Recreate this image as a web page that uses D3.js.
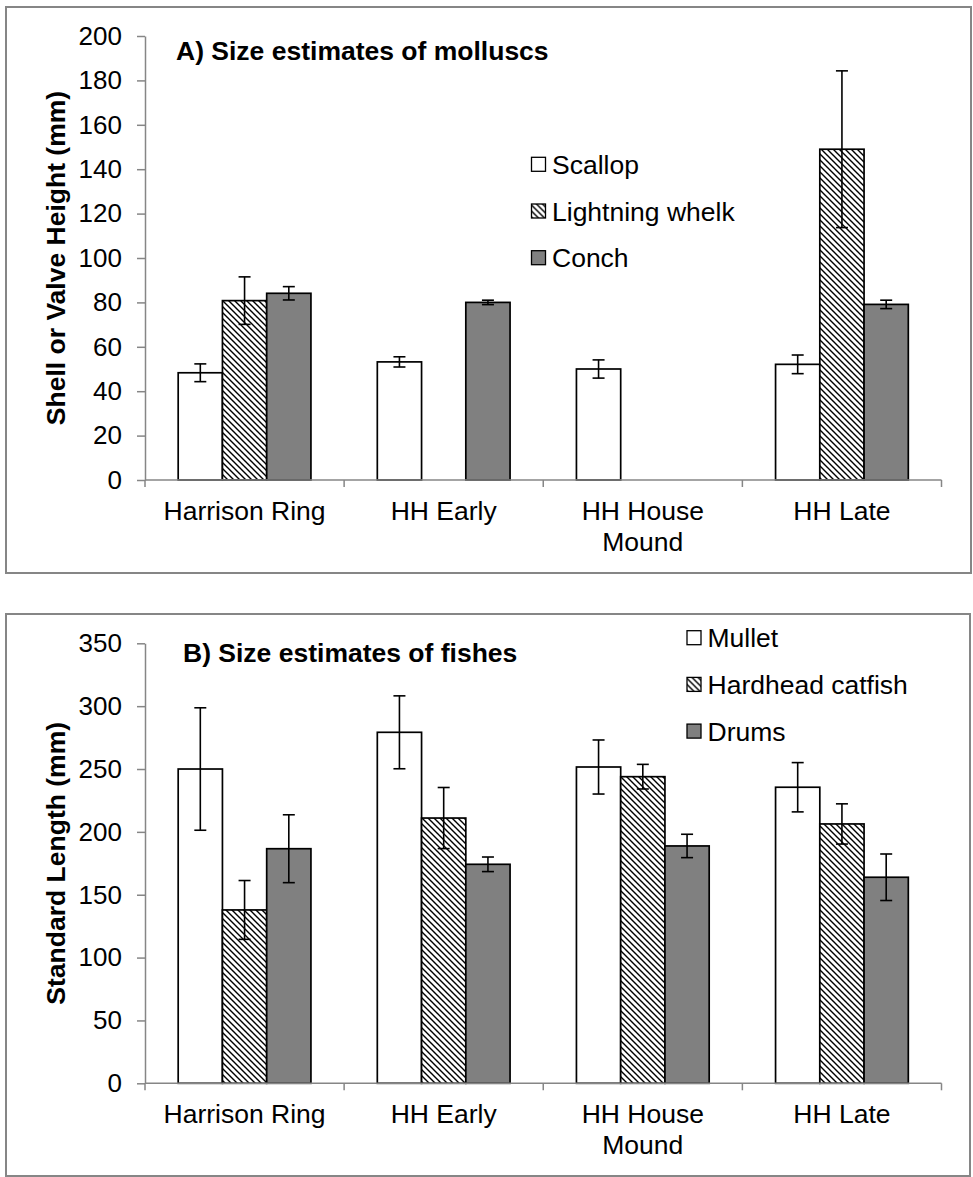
<!DOCTYPE html>
<html>
<head>
<meta charset="utf-8">
<script src="https://cdn.jsdelivr.net/npm/d3@7"></script>
<style>
  body { margin: 0; background: #fff; }
  text { font-family: "Liberation Sans", Arial, sans-serif; }
</style>
</head>
<body>
<div id="viz"></div>
<script>
// shared categories
const sites = ["Harrison Ring", "HH Early", "HH House Mound", "HH Late"];

// A) molluscs
const molluscSeries = ["Scallop", "Lightning whelk", "Conch"];
const scallopMean = [48.3, 53.2, 50.0, 52.1];
const scallopErr  = [4.0, 2.3, 4.1, 4.2];
const whelkMean   = [80.8, 0, 0, 149.0];
const whelkErr    = [10.7, null, null, 35.3];
const conchMean   = [84.1, 80.0, 0, 79.1];
const conchErr    = [3.0, 1.0, null, 1.9];
const molluscTicks = [0, 20, 40, 60, 80, 100, 120, 140, 160, 180, 200];

// B) fishes
const fishSeries = ["Mullet", "Hardhead catfish", "Drums"];
const mulletMean  = [250.0, 279.2, 251.6, 235.5];
const mulletErr   = [48.7, 29.0, 21.5, 19.6];
const catfishMean = [137.9, 211.0, 243.9, 206.3];
const catfishErr  = [23.4, 24.3, 9.8, 16.0];
const drumsMean   = [186.6, 174.2, 188.8, 163.9];
const drumsErr    = [27.0, 5.8, 9.3, 18.5];
const fishTicks = [0, 50, 100, 150, 200, 250, 300, 350];

const W = 973, H = 1177;
const axisGray = "#868686";
const fills = ["#ffffff", "url(#hatch)", "#808080"];
const fs = "26.5px";

const svg = d3.select("#viz").append("svg")
  .attr("width", W)
  .attr("height", H);

// diagonal hatch (downward, top-left to bottom-right)
const defs = svg.append("defs");
const pat = defs.append("pattern")
  .attr("id", "hatch")
  .attr("patternUnits", "userSpaceOnUse")
  .attr("width", 6)
  .attr("height", 6);
pat.append("rect").attr("width", 6).attr("height", 6).attr("fill", "#fff");
pat.append("path")
  .attr("d", "M-1,-1 L7,7 M-1,5 L1,7 M5,-1 L7,1")
  .attr("stroke", "#000")
  .attr("stroke-width", 1.4);

function drawPanel(opt) {
  const g = svg.append("g");

  // outer frame
  g.append("rect")
    .attr("x", opt.frame[0]).attr("y", opt.frame[1])
    .attr("width", opt.frame[2]).attr("height", opt.frame[3])
    .attr("fill", "#fff")
    .attr("stroke", axisGray)
    .attr("stroke-width", 2);

  const x = d3.scaleBand().domain(sites).range([145, 941.5]).padding(0);
  const bw = x.bandwidth();
  const xs = d3.scaleBand().domain(opt.series).range([bw / 6, bw * 5 / 6]).padding(0);
  const y = d3.scaleLinear().domain([0, opt.ticks[opt.ticks.length - 1]]).range([opt.y0, opt.yTop]);

  // y axis
  const yAxis = g.append("g")
    .attr("transform", "translate(145,0)")
    .call(d3.axisLeft(y).tickValues(opt.ticks).tickSize(8).tickSizeOuter(0).tickPadding(15));
  yAxis.selectAll("path, line").attr("stroke", axisGray).attr("stroke-width", 1.5);
  yAxis.selectAll("text").attr("font-size", "26px").attr("fill", "#000")
    .style("font-family", "'Liberation Sans', Arial, sans-serif");

  // bars
  const rows = [];
  opt.means.forEach((arr, si) => {
    arr.forEach((v, ci) => rows.push({ s: opt.series[si], si, c: sites[ci], v, e: opt.errs[si][ci] }));
  });

  g.append("g").selectAll("rect")
    .data(rows)
    .join("rect")
    .attr("x", d => x(d.c) + xs(d.s))
    .attr("y", d => y(d.v))
    .attr("width", xs.bandwidth())
    .attr("height", d => y(0) - y(d.v))
    .attr("fill", d => fills[d.si])
    .attr("stroke", "#000")
    .attr("stroke-width", d => d.v > 0 ? 1.7 : 0.8);

  // x axis line and ticks at band edges
  const xAxis = g.append("g");
  xAxis.append("line")
    .attr("x1", 145).attr("x2", x.range()[1])
    .attr("y1", y(0)).attr("y2", y(0))
    .attr("stroke", axisGray).attr("stroke-width", 1.5);
  const edges = sites.map(s => x(s)).concat([x.range()[1]]);
  xAxis.selectAll(".xt")
    .data(edges)
    .join("line")
    .attr("class", "xt")
    .attr("x1", d => d).attr("x2", d => d)
    .attr("y1", y(0)).attr("y2", y(0) + 7)
    .attr("stroke", axisGray).attr("stroke-width", 1.5);

  // category labels (wrap long ones)
  const lab = g.append("g").selectAll("text")
    .data(sites)
    .join("text")
    .attr("x", d => x(d) + bw / 2)
    .attr("y", y(0) + 40)
    .attr("text-anchor", "middle")
    .attr("font-size", fs);
  lab.each(function(d) {
    const parts = d === "HH House Mound" ? ["HH House", "Mound"] : [d];
    const t = d3.select(this);
    parts.forEach((p, i) => {
      t.append("tspan").attr("x", x(d) + bw / 2).attr("dy", i === 0 ? 0 : 30.5).text(p);
    });
  });

  // error bars
  const errs = rows.filter(d => d.e != null);
  const eg = g.append("g").attr("stroke", "#000").attr("stroke-width", 1.6);
  const cx = d => x(d.c) + xs(d.s) + xs.bandwidth() / 2;
  eg.selectAll(".ev").data(errs).join("line").attr("class", "ev")
    .attr("x1", cx).attr("x2", cx)
    .attr("y1", d => y(d.v + d.e)).attr("y2", d => y(d.v - d.e));
  eg.selectAll(".et").data(errs).join("line").attr("class", "et")
    .attr("x1", d => cx(d) - 6).attr("x2", d => cx(d) + 6)
    .attr("y1", d => y(d.v + d.e)).attr("y2", d => y(d.v + d.e));
  eg.selectAll(".eb").data(errs).join("line").attr("class", "eb")
    .attr("x1", d => cx(d) - 6).attr("x2", d => cx(d) + 6)
    .attr("y1", d => y(d.v - d.e)).attr("y2", d => y(d.v - d.e));

  // title
  g.append("text")
    .attr("x", opt.titlePos[0]).attr("y", opt.titlePos[1])
    .attr("font-size", fs).attr("font-weight", "bold")
    .text(opt.title);

  // y axis title
  g.append("text")
    .attr("transform", `translate(65,${(opt.y0 + opt.yTop) / 2}) rotate(-90)`)
    .attr("text-anchor", "middle")
    .attr("font-size", fs).attr("font-weight", "bold")
    .text(opt.yTitle);

  // legend
  const lg = g.append("g").selectAll("g")
    .data(opt.series)
    .join("g")
    .attr("transform", (d, i) => `translate(${opt.legendPos[0]},${opt.legendPos[1] + i * 46.7})`);
  lg.append("rect")
    .attr("x", 0).attr("y", -7).attr("width", 14).attr("height", 14)
    .attr("fill", (d, i) => fills[i])
    .attr("stroke", "#000").attr("stroke-width", 1.3);
  lg.append("text")
    .attr("x", 20.5).attr("y", 9.5)
    .attr("font-size", fs)
    .text(d => d);
}

drawPanel({
  frame: [6, 7, 965, 566],
  series: molluscSeries,
  means: [scallopMean, whelkMean, conchMean],
  errs: [scallopErr, whelkErr, conchErr],
  ticks: molluscTicks,
  y0: 480, yTop: 36,
  title: "A) Size estimates of molluscs",
  titlePos: [176, 60],
  yTitle: "Shell or Valve Height (mm)",
  legendPos: [531.5, 164.3]
});

drawPanel({
  frame: [6, 614, 964, 562],
  series: fishSeries,
  means: [mulletMean, catfishMean, drumsMean],
  errs: [mulletErr, catfishErr, drumsErr],
  ticks: fishTicks,
  y0: 1083.3, yTop: 643.3,
  title: "B) Size estimates of fishes",
  titlePos: [183, 661.5],
  yTitle: "Standard Length (mm)",
  legendPos: [687, 637.7]
});
</script>
</body>
</html>
